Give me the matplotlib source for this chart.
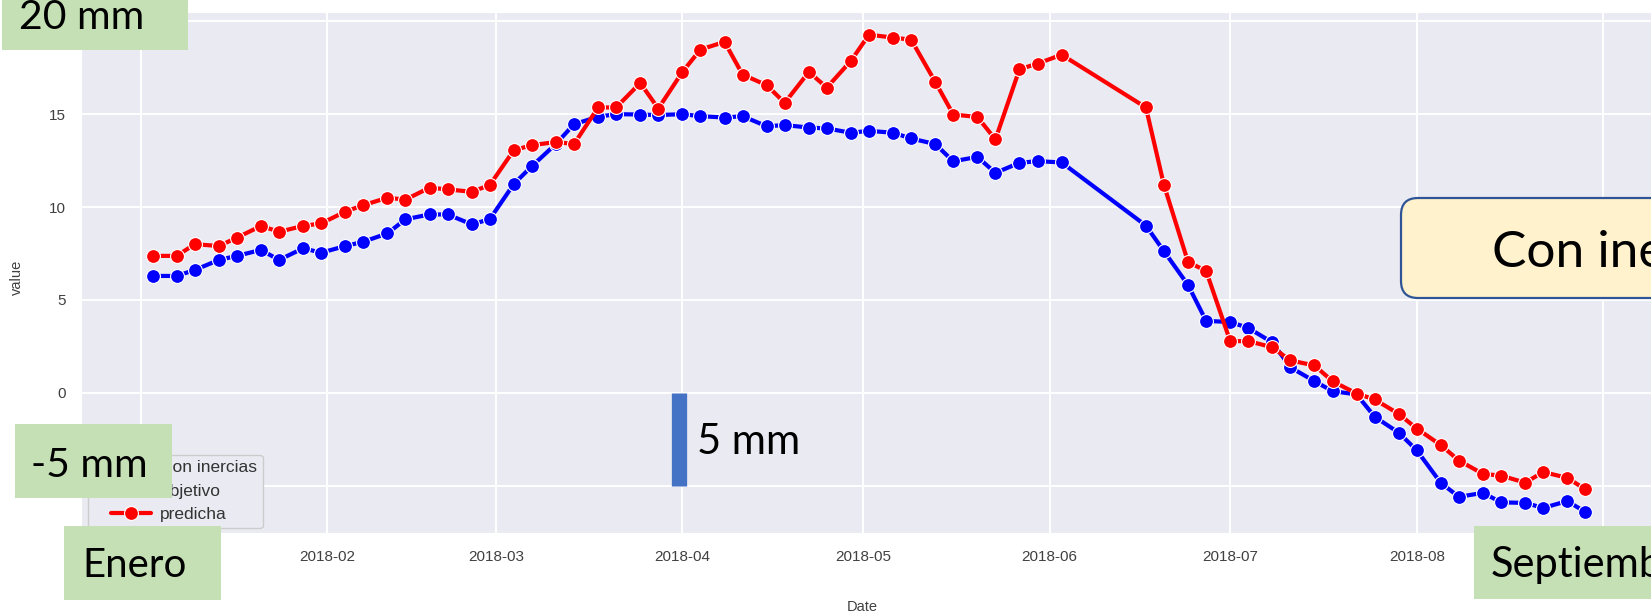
import pandas as pd
import matplotlib
matplotlib.use('Agg')
import matplotlib.pyplot as plt
import matplotlib.dates as mdates
from matplotlib.patches import Rectangle, FancyBboxPatch
from matplotlib.lines import Line2D
from matplotlib.legend_handler import HandlerLine2D
from matplotlib.transforms import IdentityTransform
import seaborn as sns

# Readings every Wednesday and Sunday of 2018 (no data 6-13 June)
fechas = pd.to_datetime([
    "2018-01-03", "2018-01-07", "2018-01-10", "2018-01-14", "2018-01-17", "2018-01-21",
    "2018-01-24", "2018-01-28", "2018-01-31", "2018-02-04", "2018-02-07", "2018-02-11",
    "2018-02-14", "2018-02-18", "2018-02-21", "2018-02-25", "2018-02-28", "2018-03-04",
    "2018-03-07", "2018-03-11", "2018-03-14", "2018-03-18", "2018-03-21", "2018-03-25",
    "2018-03-28", "2018-04-01", "2018-04-04", "2018-04-08", "2018-04-11", "2018-04-15",
    "2018-04-18", "2018-04-22", "2018-04-25", "2018-04-29", "2018-05-02", "2018-05-06",
    "2018-05-09", "2018-05-13", "2018-05-16", "2018-05-20", "2018-05-23", "2018-05-27",
    "2018-05-30", "2018-06-03", "2018-06-17", "2018-06-20", "2018-06-24", "2018-06-27",
    "2018-07-01", "2018-07-04", "2018-07-08", "2018-07-11", "2018-07-15", "2018-07-18",
    "2018-07-22", "2018-07-25", "2018-07-29", "2018-08-01", "2018-08-05", "2018-08-08",
    "2018-08-12", "2018-08-15", "2018-08-19", "2018-08-22", "2018-08-26", "2018-08-29",
])

objetivo = [
    6.29, 6.29, 6.61, 7.15, 7.37, 7.69, 7.15, 7.78, 7.54, 7.90, 8.13, 8.58,
    9.34, 9.60, 9.60, 9.07, 9.34, 11.24, 12.20, 13.40, 14.46, 14.86, 15.00, 14.98,
    14.95, 15.00, 14.89, 14.82, 14.89, 14.35, 14.41, 14.28, 14.23, 14.00, 14.10, 14.00,
    13.69, 13.39, 12.46, 12.70, 11.84, 12.38, 12.47, 12.40, 9.00, 7.62, 5.80, 3.87,
    3.81, 3.49, 2.71, 1.37, 0.62, 0.09, -0.09, -1.29, -2.15, -3.10, -4.86, -5.60,
    -5.39, -5.90, -5.93, -6.20, -5.83, -6.42,
]

predicha = [
    7.37, 7.37, 8.00, 7.90, 8.35, 8.98, 8.67, 8.98, 9.12, 9.75, 10.10, 10.50,
    10.40, 11.04, 10.95, 10.82, 11.18, 13.06, 13.33, 13.50, 13.39, 15.36, 15.36, 16.68,
    15.30, 17.27, 18.48, 18.89, 17.13, 16.56, 15.61, 17.27, 16.43, 17.87, 19.28, 19.12,
    19.01, 16.74, 14.98, 14.85, 13.64, 17.42, 17.72, 18.20, 15.36, 11.18, 7.04, 6.56,
    2.78, 2.78, 2.45, 1.74, 1.47, 0.62, -0.04, -0.36, -1.14, -1.93, -2.82, -3.65,
    -4.37, -4.46, -4.84, -4.27, -4.58, -5.20,
]

W, H = 1651, 613

sns.set_style("darkgrid")
plt.rcParams['font.family'] = ['Liberation Sans', 'DejaVu Sans']

fig = plt.figure(figsize=(W / 100, H / 100), dpi=100)
ax = fig.add_axes([81 / W, 1 - 533 / H, (1657 - 81) / W, (533 - 12) / H])

estilo = dict(lw=3.0, marker='o', ms=10, mec='white', mew=0.8)
ax.plot(fechas, objetivo, color='blue', label='objetivo', **estilo)
ax.plot(fechas, predicha, color='red', label='predicha', **estilo)

ax.set_ylim(-7.55, 20.5)
ax.set_yticks([-5, 0, 5, 10, 15, 20])
ax.xaxis.set_major_locator(mdates.MonthLocator())
ax.xaxis.set_major_formatter(mdates.DateFormatter('%Y-%m'))
ax.tick_params(axis='both', length=0, labelsize=11, labelcolor='#404040')
ax.tick_params(axis='y', pad=11)
ax.tick_params(axis='x', pad=12)
ax.grid(color='white', lw=1.4)

ax.set_xlabel('Date', fontsize=10.5, color='#404040')
ax.set_ylabel('value', fontsize=10.5, color='#404040')
ax.xaxis.set_label_coords(0.4955, -0.128)
ax.yaxis.set_label_coords(-0.036, 0.49)

entradas = [Line2D([], [], ls='none'),
            Line2D([], [], color='blue', **estilo),
            Line2D([], [], color='red', **estilo)]
leg = ax.legend(entradas, ['Con inercias', 'objetivo', 'predicha'],
                loc='lower left', bbox_to_anchor=(0.0044, 0.0096), borderaxespad=0,
                fontsize=12.5, handlelength=3.3, handletextpad=0.55,
                borderpad=0.32, labelspacing=0.48, frameon=True,
                handler_map={Line2D: HandlerLine2D(xpad=1.0)},
                facecolor='#EAEAF2', edgecolor='#cccccc', framealpha=1)
for t in leg.get_texts():
    t.set_color('#333333')

# overlay labels, positioned in pixels from the top-left corner
def caja(x0, y0, x1, y1, color='#C5E0B4'):
    fig.add_artist(Rectangle((x0, H - y1), x1 - x0, y1 - y0, transform=IdentityTransform(),
                             facecolor=color, edgecolor='none', zorder=10))

def rotulo(x, y, texto, size):
    fig.text(x / W, 1 - y / H, texto, fontsize=size, family=['Lato', 'DejaVu Sans'],
             color='black', ha='left', va='baseline', zorder=11)

caja(2, -30, 188, 50)
rotulo(19, 29, '20 mm', 29.5)
caja(15, 424, 172, 498)
rotulo(31, 477, '-5 mm', 29.5)
caja(64, 526, 221, 600)
rotulo(82, 577, 'Enero', 29)
caja(1474, 526, 1800, 599)
rotulo(1491, 577, 'Septiembre', 30)

fig.add_artist(FancyBboxPatch((1401, H - 298), 400, 100, transform=IdentityTransform(),
                              boxstyle='round,pad=0,rounding_size=17',
                              facecolor='#FFF2CC', edgecolor='#2F5597', lw=1.6, zorder=10))
rotulo(1492, 267, 'Con inercias', 37)

# 5 mm scale bar drawn in data units
ax.vlines(pd.Timestamp('2018-03-31 11:00'), -5, 0, colors='#4472C4', lw=11, zorder=5)
rotulo(697, 454, '5 mm', 30)

fig.savefig('out.png', dpi=100)
